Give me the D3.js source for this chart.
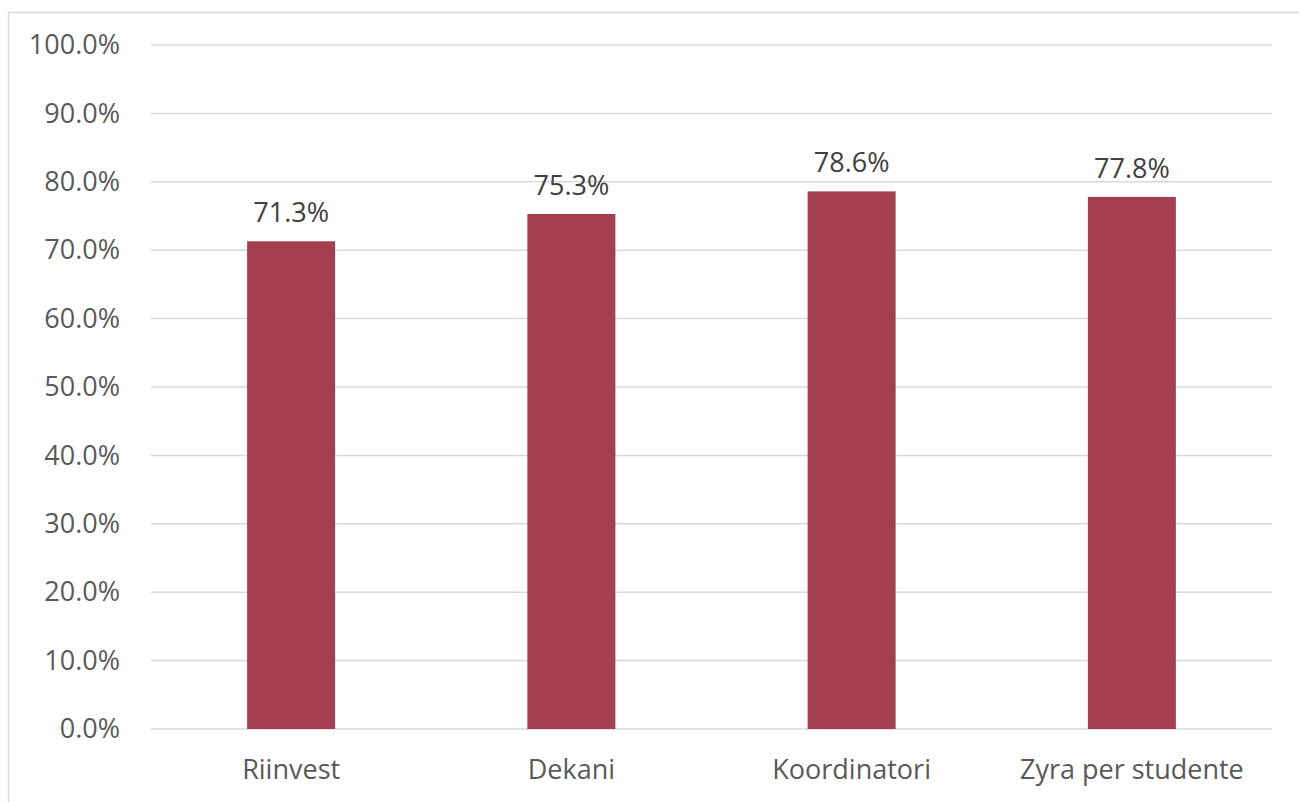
<!DOCTYPE html>
<html>
<head>
<meta charset="utf-8">
<script src="https://cdn.jsdelivr.net/npm/d3@7"></script>
<style>
  body { margin: 0; background: #fff; }
  text { font-family: "Open Sans", "Liberation Sans", sans-serif; }
</style>
</head>
<body>
<div id="chart"></div>
<script>
// values
var categories = ["Riinvest", "Dekani", "Koordinatori", "Zyra per studente"];
var values = [0.713, 0.753, 0.786, 0.778];
var yTicks = [0, 0.1, 0.2, 0.3, 0.4, 0.5, 0.6, 0.7, 0.8, 0.9, 1.0];

var width = 1299, height = 802;
var plotLeft = 151, plotRight = 1272, plotTop = 45, plotBottom = 729;

var svg = d3.select("#chart").append("svg")
  .attr("width", width)
  .attr("height", height);

// chart area border (right/bottom run past the window)
svg.append("rect")
  .attr("x", 8.5).attr("y", 12.5)
  .attr("width", 1300).attr("height", 800)
  .attr("fill", "none")
  .attr("stroke", "#d9d9d9")
  .attr("stroke-width", 1.5);

var x = d3.scaleBand()
  .domain(categories)
  .range([plotLeft, plotRight])
  .paddingInner(0.686)
  .paddingOuter(0.343);

var y = d3.scaleLinear()
  .domain([0, 1])
  .range([plotBottom, plotTop]);

// gridlines
svg.append("g")
  .selectAll("line")
  .data(yTicks)
  .join("line")
  .attr("x1", plotLeft).attr("x2", plotRight)
  .attr("y1", function(d) { return y(d); })
  .attr("y2", function(d) { return y(d); })
  .attr("stroke", "#d9d9d9")
  .attr("stroke-width", 1.5);

// y axis labels
var yAxis = d3.axisLeft(y)
  .tickValues(yTicks)
  .tickFormat(d3.format(".1%"))
  .tickSize(0)
  .tickPadding(31);

var ya = svg.append("g")
  .attr("transform", "translate(" + plotLeft + ",0)")
  .call(yAxis);
ya.select(".domain").remove();
ya.selectAll("text")
  .attr("fill", "#595959")
  .style("font-size", "27px");

// bars
svg.append("g")
  .selectAll("rect")
  .data(values)
  .join("rect")
  .attr("x", function(d, i) { return x(categories[i]); })
  .attr("y", function(d) { return y(d); })
  .attr("width", x.bandwidth())
  .attr("height", function(d) { return y(0) - y(d); })
  .attr("fill", "#a43e51");

// data labels
svg.append("g")
  .selectAll("text")
  .data(values)
  .join("text")
  .attr("x", function(d, i) { return x(categories[i]) + x.bandwidth() / 2; })
  .attr("y", function(d) { return y(d) - 19; })
  .attr("text-anchor", "middle")
  .attr("fill", "#404040")
  .style("font-size", "27px")
  .text(function(d) { return d3.format(".1%")(d); });

// x axis labels
var xAxis = d3.axisBottom(x).tickSize(0).tickPadding(31);
var xa = svg.append("g")
  .attr("transform", "translate(0," + plotBottom + ")")
  .call(xAxis);
xa.select(".domain").remove();
xa.selectAll("text")
  .attr("fill", "#595959")
  .style("font-size", "27px");
</script>
</body>
</html>
